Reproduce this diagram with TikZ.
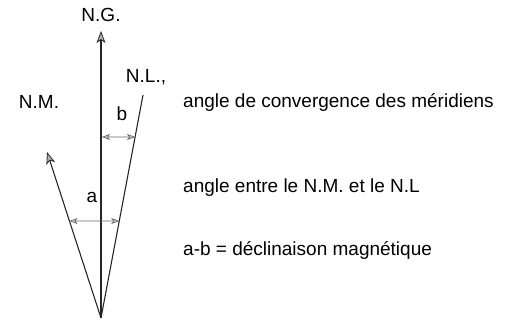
\documentclass[tikz,border=0pt]{standalone}
\usepackage{fontspec}
\setmainfont{Liberation Sans}
\usetikzlibrary{calc,arrows.meta}

\begin{document}
\begin{tikzpicture}[x=1pt,y=-1pt,
    ligne/.style={line width=1.1pt,black!85},
    fleche/.style={ligne,-{Stealth[length=12pt,width=9pt,inset=3pt,fill=black!30,line width=0.8pt]}},
    cote/.style={line width=0.9pt,black!60,{Stealth[length=8pt,width=6pt,inset=2pt,fill=black!25,line width=0.6pt]}-{Stealth[length=8pt,width=6pt,inset=2pt,fill=black!25,line width=0.6pt]}},
    texte/.style={font=\fontsize{19}{22}\selectfont,inner sep=0pt}]
      \useasboundingbox (0,0) rectangle (525,321);
      \def\yO{318}
      \def\ya{221}
      \def\yb{137}

      \coordinate (O) at (101,\yO);
      \coordinate (NG) at (101,31);
      \coordinate (NL) at (143,95);
      \coordinate (NM) at (47,152);

      \draw[fleche] (O) -- (NG);
      \draw[ligne] (O) -- (NL);
      \draw[fleche] (O) -- (NM);

      % Angles
      \coordinate (b1) at (102,\yb);
      \coordinate (b2) at ($(O)!{(\yO-\yb)/(\yO-95)}!(NL)$);
      \coordinate (a1) at ($(O)!{(\yO-\ya)/(\yO-152)}!(NM)$);
      \coordinate (a2) at ($(O)!{(\yO-\ya)/(\yO-95)}!(NL)$);
      \draw[cote] (b1) -- (b2);
      \draw[cote] (a1) -- (a2);
      \node[texte] (lb) at (122,114) {b};
      \node[texte] (la) at (92,197) {a};

      % Nords
      \node[texte] (ng) at (101,15) {N.G.};
      \node[texte] (nl) at (146,77) {N.L.,};
      \node[texte] (nm) at (39,102) {N.M.};

      % Legende
      \node[texte,anchor=west] (t1) at (183,102) {angle de convergence des méridiens};
      \node[texte,anchor=west] (t2) at (183,188) {angle entre le N.M. et le N.L};
      \node[texte,anchor=west] (t3) at (183,250) {a-b = déclinaison magnétique};
    \end{tikzpicture}
\end{document}
